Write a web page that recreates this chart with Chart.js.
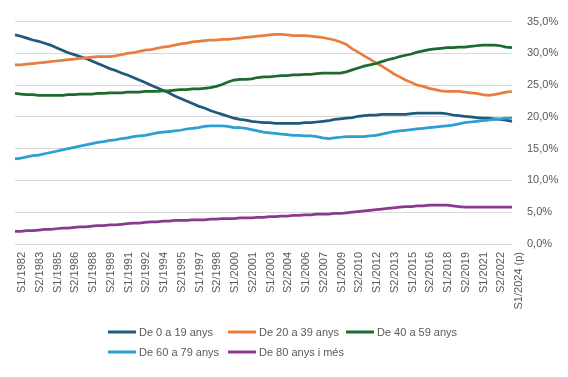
<!DOCTYPE html>
<html>
<head>
<meta charset="utf-8">
<script src="https://cdn.jsdelivr.net/npm/chart.js@4.4.1/dist/chart.umd.min.js"></script>
<style>
  html, body { margin: 0; padding: 0; background: #ffffff; }
  #wrap { width: 568px; height: 377px; }
</style>
</head>
<body>
<div id="wrap"><canvas id="c" width="568" height="377"></canvas></div>
<script>
const categories = [
  "S1/1982","S2/1982","S1/1983","S2/1983","S1/1984","S2/1984","S1/1985","S2/1985","S1/1986","S2/1986",
  "S1/1987","S2/1987","S1/1988","S2/1988","S1/1989","S2/1989","S1/1990","S2/1990","S1/1991","S2/1991",
  "S1/1992","S2/1992","S1/1993","S2/1993","S1/1994","S2/1994","S1/1995","S2/1995","S1/1996","S2/1996",
  "S1/1997","S2/1997","S1/1998","S2/1998","S1/1999","S2/1999","S1/2000","S2/2000","S1/2001","S2/2001",
  "S1/2002","S2/2002","S1/2003","S2/2003","S1/2004","S2/2004","S1/2005","S2/2005","S1/2006","S2/2006",
  "S1/2007","S2/2007","S1/2008","S2/2008","S1/2009","S2/2009","S1/2010","S2/2010","S1/2011","S2/2011",
  "S1/2012","S2/2012","S1/2013","S2/2013","S1/2014","S2/2014","S1/2015","S2/2015","S1/2016","S2/2016",
  "S1/2017","S2/2017","S1/2018","S2/2018","S1/2019","S2/2019","S1/2020","S2/2020","S1/2021","S2/2021",
  "S1/2022","S2/2022","S1/2023","S2/2023","S1/2024 (p)"
];

const seriesNames = ["De 0 a 19 anys", "De 20 a 39 anys", "De 40 a 59 anys", "De 60 a 79 anys", "De 80 anys i més"];

const age0to19 = [
  32.9,32.7,32.4,32.1,31.9,31.6,31.3,30.9,30.5,30.1,
  29.8,29.5,29.2,28.8,28.4,28.0,27.6,27.3,26.9,26.6,
  26.2,25.8,25.4,25.0,24.6,24.2,23.8,23.3,22.9,22.5,
  22.1,21.7,21.4,21.0,20.7,20.4,20.1,19.8,19.6,19.5,
  19.3,19.2,19.1,19.1,19.0,19.0,19.0,19.0,19.0,19.1,
  19.1,19.2,19.3,19.4,19.6,19.7,19.8,19.9,20.1,20.2,
  20.3,20.3,20.4,20.4,20.4,20.4,20.4,20.5,20.6,20.6,
  20.6,20.6,20.6,20.5,20.3,20.2,20.1,20.0,19.9,19.8,
  19.8,19.7,19.6,19.5,19.3
];
const age20to39 = [
  28.2,28.2,28.3,28.4,28.5,28.6,28.7,28.8,28.9,29.0,
  29.1,29.2,29.3,29.4,29.5,29.5,29.5,29.6,29.8,30.0,
  30.1,30.3,30.5,30.6,30.8,31.0,31.1,31.3,31.5,31.6,
  31.8,31.9,32.0,32.1,32.1,32.2,32.2,32.3,32.4,32.5,
  32.6,32.7,32.8,32.9,33.0,33.0,32.9,32.8,32.8,32.8,
  32.7,32.6,32.5,32.3,32.1,31.8,31.4,30.7,30.2,29.6,
  29.1,28.5,28.0,27.4,26.8,26.3,25.8,25.4,25.0,24.8,
  24.5,24.3,24.1,24.0,24.0,24.0,23.9,23.8,23.7,23.5,
  23.4,23.5,23.7,23.9,24.0
];
const age40to59 = [
  23.7,23.6,23.5,23.5,23.4,23.4,23.4,23.4,23.4,23.5,
  23.5,23.6,23.6,23.6,23.7,23.7,23.8,23.8,23.8,23.9,
  23.9,23.9,24.0,24.0,24.0,24.1,24.1,24.2,24.3,24.3,
  24.4,24.4,24.5,24.6,24.8,25.1,25.5,25.8,25.9,25.9,
  26.0,26.2,26.3,26.3,26.4,26.5,26.5,26.6,26.6,26.7,
  26.7,26.8,26.9,26.9,26.9,26.9,27.1,27.4,27.7,28.0,
  28.2,28.4,28.7,29.0,29.2,29.5,29.7,29.9,30.2,30.4,
  30.6,30.7,30.8,30.9,30.9,31.0,31.0,31.1,31.2,31.3,
  31.3,31.3,31.2,31.0,30.9
];
const age60to79 = [
  13.4,13.5,13.7,13.9,14.0,14.2,14.4,14.6,14.8,15.0,
  15.2,15.4,15.6,15.8,16.0,16.1,16.3,16.4,16.6,16.7,
  16.9,17.0,17.1,17.3,17.5,17.6,17.7,17.8,17.9,18.1,
  18.2,18.3,18.5,18.6,18.6,18.6,18.5,18.3,18.3,18.2,
  18.0,17.8,17.6,17.5,17.4,17.3,17.2,17.1,17.1,17.0,
  17.0,16.9,16.7,16.6,16.7,16.8,16.9,16.9,16.9,16.9,
  17.0,17.1,17.3,17.5,17.7,17.8,17.9,18.0,18.1,18.2,
  18.3,18.4,18.5,18.6,18.7,18.9,19.1,19.2,19.3,19.4,
  19.5,19.6,19.7,19.8,19.8
];
const age80plus = [
  2.0,2.0,2.1,2.1,2.2,2.3,2.3,2.4,2.5,2.5,
  2.6,2.7,2.7,2.8,2.9,2.9,3.0,3.0,3.1,3.2,
  3.3,3.3,3.4,3.5,3.5,3.6,3.6,3.7,3.7,3.7,
  3.8,3.8,3.8,3.9,3.9,4.0,4.0,4.0,4.1,4.1,
  4.1,4.2,4.2,4.3,4.3,4.4,4.4,4.5,4.5,4.6,
  4.6,4.7,4.7,4.7,4.8,4.8,4.9,5.0,5.1,5.2,
  5.3,5.4,5.5,5.6,5.7,5.8,5.9,5.9,6.0,6.0,
  6.1,6.1,6.1,6.1,6.0,5.9,5.8,5.8,5.8,5.8,
  5.8,5.8,5.8,5.8,5.8
];

const yTicks = [0, 5, 10, 15, 20, 25, 30, 35];
const colors = ["#1f5a7c", "#e97d3f", "#1e6a2c", "#2d9fd2", "#8a3a8e"];
const allSeries = [age0to19, age20to39, age40to59, age60to79, age80plus];

const FONT = "'Liberation Sans', Arial, sans-serif";
const GRAY = "#595959";

const customLegend = {
  id: 'customLegend',
  afterDraw(chart) {
    const ctx = chart.ctx;
    const cols = [108, 228, 346];
    const rows = [332, 352];
    ctx.save();
    ctx.font = "11px " + FONT;
    ctx.textBaseline = 'middle';
    ctx.textAlign = 'left';
    chart.data.datasets.forEach((ds, i) => {
      const x = cols[i % 3];
      const y = rows[Math.floor(i / 3)];
      ctx.strokeStyle = ds.borderColor;
      ctx.lineWidth = 3;
      ctx.lineCap = 'butt';
      ctx.beginPath();
      ctx.moveTo(x, y);
      ctx.lineTo(x + 28, y);
      ctx.stroke();
      ctx.fillStyle = GRAY;
      ctx.fillText(ds.label, x + 31, y + 0.5);
    });
    ctx.restore();
  }
};

new Chart(document.getElementById('c'), {
  type: 'line',
  data: {
    labels: categories,
    datasets: allSeries.map((vals, i) => ({
      label: seriesNames[i],
      data: vals,
      borderColor: colors[i],
      backgroundColor: colors[i],
      borderWidth: 2.75,
      pointRadius: 0,
      pointHoverRadius: 0,
      tension: 0,
      fill: false,
      order: 4 - i
    }))
  },
  options: {
    responsive: false,
    devicePixelRatio: 1,
    animation: false,
    layout: { padding: { left: 15, top: 14, right: 0, bottom: 0 } },
    plugins: {
      legend: { display: false },
      tooltip: { enabled: false },
      title: { display: false }
    },
    scales: {
      x: {
        type: 'category',
        offset: false,
        grid: { display: false, drawTicks: false },
        border: { display: false },
        ticks: {
          autoSkip: false,
          maxRotation: 90,
          minRotation: 90,
          padding: 8,
          labelOffset: 7,
          color: GRAY,
          font: { family: FONT, size: 11 },
          callback: function(value, index) {
            return index % 3 === 0 ? categories[index] : '';
          }
        },
        afterFit: function(scale) { scale.height = 133; }
      },
      y: {
        position: 'right',
        min: 0,
        max: 35,
        afterBuildTicks: function(scale) {
          scale.ticks = yTicks.map(v => ({ value: v }));
        },
        grid: { color: '#d9d9d9', lineWidth: 1, drawTicks: false },
        border: { display: false },
        ticks: {
          padding: 15,
          color: GRAY,
          font: { family: FONT, size: 11 },
          callback: function(v) { return v.toFixed(1).replace('.', ',') + '%'; }
        },
        afterFit: function(scale) { scale.width = 56; }
      }
    }
  },
  plugins: [customLegend]
});
</script>
</body>
</html>
